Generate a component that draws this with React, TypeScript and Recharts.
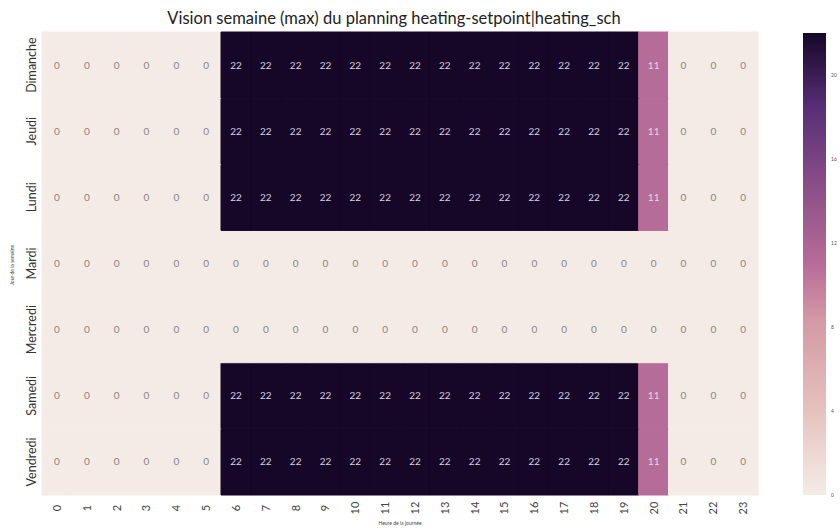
import { BarChart, Bar, XAxis, YAxis, Cell, LabelList } from "recharts"

const hours = ["0", "1", "2", "3", "4", "5", "6", "7", "8", "9", "10", "11", "12", "13", "14", "15", "16", "17", "18", "19", "20", "21", "22", "23"]

// top to bottom, as in the picture
const days = ["Dimanche", "Jeudi", "Lundi", "Mardi", "Mercredi", "Samedi", "Vendredi"]

const dimanche = [0, 0, 0, 0, 0, 0, 22, 22, 22, 22, 22, 22, 22, 22, 22, 22, 22, 22, 22, 22, 11, 0, 0, 0]
const jeudi = [0, 0, 0, 0, 0, 0, 22, 22, 22, 22, 22, 22, 22, 22, 22, 22, 22, 22, 22, 22, 11, 0, 0, 0]
const lundi = [0, 0, 0, 0, 0, 0, 22, 22, 22, 22, 22, 22, 22, 22, 22, 22, 22, 22, 22, 22, 11, 0, 0, 0]
const mardi = [0, 0, 0, 0, 0, 0, 0, 0, 0, 0, 0, 0, 0, 0, 0, 0, 0, 0, 0, 0, 0, 0, 0, 0]
const mercredi = [0, 0, 0, 0, 0, 0, 0, 0, 0, 0, 0, 0, 0, 0, 0, 0, 0, 0, 0, 0, 0, 0, 0, 0]
const samedi = [0, 0, 0, 0, 0, 0, 22, 22, 22, 22, 22, 22, 22, 22, 22, 22, 22, 22, 22, 22, 11, 0, 0, 0]
const vendredi = [0, 0, 0, 0, 0, 0, 22, 22, 22, 22, 22, 22, 22, 22, 22, 22, 22, 22, 22, 22, 11, 0, 0, 0]

const colorbarTicks = [0, 4, 8, 12, 16, 20]
const vmax = 22

const values: Record<string, number[]> = {
  Dimanche: dimanche,
  Jeudi: jeudi,
  Lundi: lundi,
  Mardi: mardi,
  Mercredi: mercredi,
  Samedi: samedi,
  Vendredi: vendredi,
}

// cubehelix-like palette, light -> dark
const stops: [number, number[]][] = [
  [0, [244, 235, 231]],
  [0.2, [228, 190, 186]],
  [0.38, [212, 152, 166]],
  [0.5, [182, 108, 152]],
  [0.68, [136, 76, 136]],
  [0.84, [88, 46, 118]],
  [1, [22, 7, 40]],
]

function colorFor(v: number) {
  const t = Math.max(0, Math.min(1, v / vmax))
  for (let i = 1; i < stops.length; i++) {
    const [t1, c1] = stops[i]
    const [t0, c0] = stops[i - 1]
    if (t <= t1) {
      const k = (t - t0) / (t1 - t0)
      const c = c0.map((x, j) => Math.round(x + (c1[j] - x) * k))
      return `rgb(${c[0]},${c[1]},${c[2]})`
    }
  }
  return "rgb(22,7,40)"
}

function textColorFor(v: number) {
  if (v >= 16) return "#d9cfe2"
  if (v >= 8) return "#f2cfe4"
  return "#8a8482"
}

const data = hours.map((h, i) => {
  const row: Record<string, string | number> = { hour: h }
  days.forEach((d) => {
    row[d] = values[d][i]
  })
  return row
})

// stacking goes bottom -> top
const stackOrder = [...days].reverse()
const rowTicks = stackOrder.map((_, i) => i + 0.5)

const font = "Lato, 'Open Sans', sans-serif"

function DayTick(props: any) {
  const { x, y, payload } = props
  const name = stackOrder[Math.floor(payload.value)]
  return (
    <text x={x + 2} y={y} transform={`rotate(-90, ${x + 2}, ${y})`} textAnchor="middle" fontSize={12.5} fill="#333" fontFamily={font}>
      {name}
    </text>
  )
}

function HourTick(props: any) {
  const { x, y, payload } = props
  return (
    <text x={x + 4} y={y + 5} transform={`rotate(-90, ${x + 4}, ${y + 5})`} textAnchor="middle" fontSize={11} fill="#444" fontFamily={font}>
      {payload.value}
    </text>
  )
}

function CellLabel(props: any) {
  const { x, y, width, height, value } = props
  return (
    <text x={x + width / 2} y={y + height / 2 + 3.5} textAnchor="middle" fontSize={10} fill={textColorFor(value)} fontFamily={font}>
      {value}
    </text>
  )
}

function BarTick(props: any) {
  const { x, y, payload } = props
  return (
    <text x={x - 3} y={y + 2} fontSize={5} fill="#555" fontFamily={font}>
      {payload.value}
    </text>
  )
}

export default function App() {
  return (
    <div style={{ position: "absolute", left: 0, top: 0, width: 840, height: 529, background: "#fff", fontFamily: font }}>
      <div style={{ position: "absolute", left: 36, width: 716, top: 8, textAlign: "center", fontSize: 16.5, color: "#222" }}>
        Vision semaine (max) du planning heating-setpoint|heating_sch
      </div>
      <div style={{ position: "absolute", left: 0, top: 0 }}>
        <BarChart width={770} height={529} data={data} margin={{ top: 32, right: 12, left: 0, bottom: 0 }} barCategoryGap={0} barGap={0}>
          <XAxis dataKey="hour" type="category" interval={0} height={34} axisLine={false} tickLine={false} tick={<HourTick />} />
          <YAxis type="number" domain={[0, 7]} ticks={rowTicks} width={42} axisLine={false} tickLine={false} tick={<DayTick />} />
          {stackOrder.map((d) => (
            <Bar key={d} dataKey={() => 1} stackId="a" isAnimationActive={false}>
              {values[d].map((v, i) => (
                <Cell key={i} fill={colorFor(v)} stroke={colorFor(v)} strokeWidth={1} />
              ))}
              <LabelList dataKey={d} content={<CellLabel />} />
            </Bar>
          ))}
        </BarChart>
      </div>
      <div style={{ position: "absolute", left: 12, top: 265, transform: "translate(-50%, -50%) rotate(-90deg)", fontSize: 5, color: "#444", whiteSpace: "nowrap" }}>
        Jour de la semaine
      </div>
      <div style={{ position: "absolute", left: 400, top: 520, transform: "translateX(-50%)", fontSize: 5, color: "#444", whiteSpace: "nowrap" }}>
        Heure de la journée
      </div>
      <div style={{ position: "absolute", left: 790, top: 0 }}>
        <BarChart width={50} height={529} data={[{ name: "cb", v: vmax }]} margin={{ top: 33, right: 0, left: 13, bottom: 34 }} barCategoryGap={0}>
          <defs>
            <linearGradient id="cbGrad" x1="0" y1="1" x2="0" y2="0">
              {stops.map(([t, c], i) => (
                <stop key={i} offset={`${t * 100}%`} stopColor={`rgb(${c[0]},${c[1]},${c[2]})`} />
              ))}
            </linearGradient>
          </defs>
          <XAxis dataKey="name" hide />
          <YAxis orientation="right" type="number" domain={[0, vmax]} ticks={colorbarTicks} width={14} axisLine={false} tickLine={false} tick={<BarTick />} />
          <Bar dataKey="v" fill="url(#cbGrad)" isAnimationActive={false} />
        </BarChart>
      </div>
    </div>
  )
}
